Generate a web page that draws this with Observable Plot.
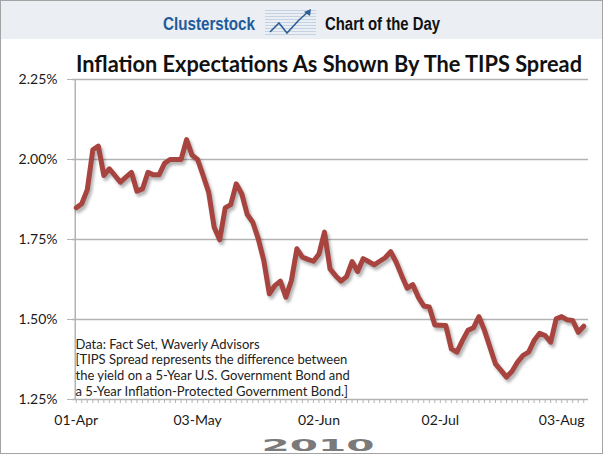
<!DOCTYPE html>
<html>
<head>
<meta charset="utf-8">
<script src="https://cdn.jsdelivr.net/npm/d3@7"></script>
<script src="https://cdn.jsdelivr.net/npm/@observablehq/plot@0.6"></script>
<style>
  body { margin: 0; background: #fff; }
  #wrap { position: relative; width: 607px; height: 456px; overflow: hidden; font-family: Lato, sans-serif; }
  #frame { position: absolute; left: 0; top: 0; width: 601px; height: 452px; border: 1px solid #a3a3a3; }
  .layer { position: absolute; left: 0; }
</style>
</head>
<body>
<div id="wrap">
  <div id="frame"></div>
  <svg class="layer" style="top:0" width="607" height="40">
    <rect x="1" y="1" width="601" height="38" fill="#ebeef2"></rect>
    <text x="163" y="30" font-family="'Liberation Sans Narrow', 'Liberation Sans', sans-serif" font-weight="bold" font-size="18" fill="#1e5b9c" textLength="92" lengthAdjust="spacingAndGlyphs">Clusterstock</text>
    <g transform="translate(265,8)">
      <g stroke="#c3d3e3" stroke-width="1">
        <line x1="0" x2="51" y1="2.5" y2="2.5"></line><line x1="0" x2="51" y1="5.5" y2="5.5"></line>
        <line x1="0" x2="51" y1="8.5" y2="8.5"></line><line x1="0" x2="51" y1="11.5" y2="11.5"></line>
        <line x1="0" x2="51" y1="14.5" y2="14.5"></line><line x1="0" x2="51" y1="17.5" y2="17.5"></line>
        <line x1="0" x2="51" y1="20.5" y2="20.5"></line><line x1="0" x2="51" y1="23.5" y2="23.5"></line>
        <line x1="0" x2="51" y1="26.5" y2="26.5"></line>
      </g>
      <polyline points="5,24 14,15 22,25 34,12 43,4" fill="none" stroke="#2d5f96" stroke-width="1.6"></polyline>
      <polygon points="46,1 45,8 39,4" fill="#2d5f96"></polygon>
    </g>
    <text x="325" y="30" font-family="'Liberation Sans Narrow', 'Liberation Sans', sans-serif" font-weight="bold" font-size="18" fill="#111" textLength="115" lengthAdjust="spacingAndGlyphs">Chart of the Day</text>
  </svg>
  <svg class="layer" style="top:40px" width="607" height="40">
    <text x="76" y="31.5" font-family="Lato, sans-serif" font-weight="bold" font-size="22" fill="#111" textLength="506" lengthAdjust="spacingAndGlyphs">Inflation Expectations As Shown By The TIPS Spread</text>
  </svg>
  <div id="chart" class="layer" style="top:40px"></div>
  <svg class="layer" style="top:420px" width="607" height="36">
    <text id="yr" x="318" y="30.5" text-anchor="middle" font-family="'DejaVu Sans', sans-serif" font-weight="bold" font-size="16" fill="#7a7a7a" textLength="113" lengthAdjust="spacingAndGlyphs">2010</text>
  </svg>
</div>
<script>
// Trading-day categories (weekdays, 01-Apr to 09-Aug 2010)
const dates = [
  "01-Apr","02-Apr","05-Apr","06-Apr","07-Apr","08-Apr","09-Apr","12-Apr","13-Apr","14-Apr","15-Apr","16-Apr",
  "19-Apr","20-Apr","21-Apr","22-Apr","23-Apr","26-Apr","27-Apr","28-Apr","29-Apr","30-Apr",
  "03-May","04-May","05-May","06-May","07-May","10-May","11-May","12-May","13-May","14-May",
  "17-May","18-May","19-May","20-May","21-May","24-May","25-May","26-May","27-May","28-May","31-May",
  "01-Jun","02-Jun","03-Jun","04-Jun","07-Jun","08-Jun","09-Jun","10-Jun","11-Jun","14-Jun","15-Jun",
  "16-Jun","17-Jun","18-Jun","21-Jun","22-Jun","23-Jun","24-Jun","25-Jun","28-Jun","29-Jun","30-Jun",
  "01-Jul","02-Jul","05-Jul","06-Jul","07-Jul","08-Jul","09-Jul","12-Jul","13-Jul","14-Jul","15-Jul",
  "16-Jul","19-Jul","20-Jul","21-Jul","22-Jul","23-Jul","26-Jul","27-Jul","28-Jul","29-Jul","30-Jul",
  "02-Aug","03-Aug","04-Aug","05-Aug","06-Aug","09-Aug"
];
// TIPS spread (%)
const values = [
  1.849, 1.862, 1.906, 2.030, 2.042, 1.950, 1.971, 1.950, 1.929, 1.945,
  1.960, 1.901, 1.908, 1.960, 1.952, 1.952, 1.988, 2.000, 2.000, 2.000,
  2.062, 2.013, 2.000, 1.950, 1.898, 1.788, 1.749, 1.849, 1.859, 1.924,
  1.893, 1.828, 1.804, 1.752, 1.684, 1.580, 1.606, 1.620, 1.570, 1.622,
  1.721, 1.695, 1.688, 1.682, 1.705, 1.773, 1.658, 1.637, 1.620, 1.634,
  1.681, 1.650, 1.690, 1.681, 1.671, 1.682, 1.693, 1.712, 1.679, 1.637,
  1.598, 1.609, 1.570, 1.542, 1.539, 1.483, 1.482, 1.481, 1.408, 1.398,
  1.434, 1.466, 1.474, 1.509, 1.466, 1.413, 1.361, 1.341, 1.320, 1.338,
  1.367, 1.388, 1.398, 1.434, 1.457, 1.450, 1.429, 1.502, 1.509, 1.499,
  1.497, 1.460, 1.479
];
const yTicks = [1.25, 1.5, 1.75, 2.0, 2.25];
const xLabels = ["01-Apr", "03-May", "02-Jun", "02-Jul", "03-Aug"];
const noteLines = [
  "Data: Fact Set, Waverly Advisors",
  "[TIPS Spread represents the difference between",
  "the yield on a 5-Year U.S. Government Bond and",
  "a 5-Year Inflation-Protected Government Bond.]"
];

const data = dates.map((d, i) => ({date: d, value: values[i]}));

const chart = Plot.plot({
  width: 607,
  height: 416,
  marginTop: 39,
  marginBottom: 57,
  marginLeft: 72,
  marginRight: 19,
  style: {fontFamily: "Lato, sans-serif", fontSize: "14px", color: "#1a1a1a", background: "transparent", overflow: "visible"},
  x: {type: "point", domain: dates, insetLeft: 1, insetRight: 2, label: null},
  y: {domain: [1.25, 2.25], label: null},
  marks: [
    Plot.ruleY(yTicks, {stroke: "#b3b3b3", strokeWidth: 1.5}),
    Plot.ruleX([dates[0]], {dx: -1, stroke: "#b3b3b3", strokeWidth: 1.5}),
    Plot.axisY(yTicks, {tickSize: 5, tickPadding: 10, tickFormat: d => d.toFixed(2) + "%", stroke: "#b3b3b3", fontSize: 14, label: null}),
    Plot.axisX(dates, {tickSize: 4, tickFormat: () => "", stroke: "#b3b3b3", label: null}),
    Plot.axisX(xLabels, {tickSize: 0, tickPadding: 16, fontSize: 14, label: null}),
    Plot.text([noteLines.join("\n")], {
      frameAnchor: "bottom-left", textAnchor: "start", lineAnchor: "bottom",
      dx: 3, dy: -4, fontSize: 13, lineHeight: 1.2, fill: "#222"
    }),
    Plot.line(data, {x: "date", y: "value", stroke: "#a8443f", strokeWidth: 5, strokeLinejoin: "round", strokeLinecap: "round"})
  ]
});
document.getElementById("chart").appendChild(chart);
const lineG = chart.querySelector('g[aria-label="line"]');
if (lineG) lineG.style.filter = "drop-shadow(2px 3px 1.5px rgba(0,0,0,0.3))";
</script>
</body>
</html>
